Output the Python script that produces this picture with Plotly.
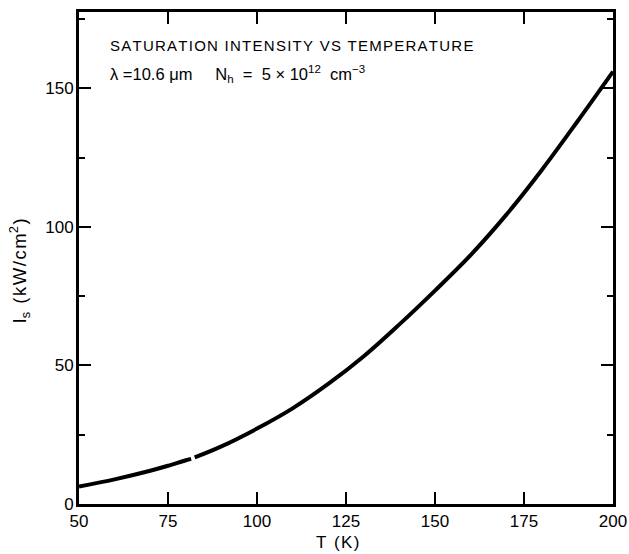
import plotly.graph_objects as go

# Temperature (K) and saturation intensity (kW/cm^2)
T_seg1 = [50, 60, 70, 75, 80, 81.5]
Is_seg1 = [6.3, 8.9, 12.0, 13.8, 15.8, 16.3]
T_seg2 = [82.5, 90, 100, 110, 120, 130, 140, 150, 160, 170, 180, 190, 200]
Is_seg2 = [16.8, 20.8, 27.2, 34.5, 43.3, 53.3, 64.8, 77.0, 89.8, 104.3, 120.5, 138.0, 156.0]

x_ticks = [50, 75, 100, 125, 150, 175, 200]
y_ticks = [0, 50, 100, 150]

FONT = "Liberation Sans, Arial, sans-serif"
HS = "\u200a"


def spaced(s):
    return HS.join(s)


fig = go.Figure()
for xs, ys in [(T_seg1, Is_seg1), (T_seg2, Is_seg2)]:
    fig.add_trace(go.Scatter(x=xs, y=ys, mode="lines",
                             line=dict(color="black", width=4, shape="spline", smoothing=1.0),
                             showlegend=False, hoverinfo="skip"))

fig.update_layout(
    width=629, height=554,
    margin=dict(l=79, r=16, t=12, b=50, autoexpand=False),
    paper_bgcolor="white", plot_bgcolor="white",
    font=dict(family=FONT, size=17, color="black"),
    showlegend=False,
)
fig.update_xaxes(range=[50, 200], tickvals=x_ticks, ticktext=[str(v) for v in x_ticks],
                 ticks="inside", ticklen=12, tickwidth=2, tickcolor="black",
                 showline=True, linewidth=3, linecolor="black", mirror="ticks",
                 showgrid=False, zeroline=False, tickfont=dict(size=17), automargin=False)
fig.update_yaxes(range=[0, 177.5], tickvals=y_ticks, ticktext=[str(v) for v in y_ticks],
                 ticks="inside", ticklen=12, tickwidth=2, tickcolor="black",
                 minor=dict(dtick=25, tick0=0, ticks="inside", ticklen=6, tickwidth=2, tickcolor="black"),
                 showline=True, linewidth=3, linecolor="black", mirror="ticks",
                 showgrid=False, zeroline=False, tickfont=dict(size=17), ticklabelstandoff=-1,
                 automargin=False)

title_words = ["SATURATION", "INTENSITY", "VS", "TEMPERATURE"]
fig.add_annotation(xref="paper", yref="paper", x=0.054, y=0.931, xanchor="left", yanchor="middle",
                   text=(HS + " " + HS).join(spaced(w) for w in title_words),
                   showarrow=False, font=dict(size=15))
fig.add_annotation(xref="paper", yref="paper", x=0.054, y=0.874, xanchor="left", yanchor="middle",
                   text="λ =10.6 μm&nbsp;&nbsp;&nbsp;&nbsp;&nbsp;N<sub>h</sub>&nbsp; =&nbsp; 5 × 10<sup>12</sup>&nbsp; cm<sup>−3</sup>",
                   showarrow=False, font=dict(size=16.5))
fig.add_annotation(xref="paper", yref="paper", x=-0.112, y=0.473, xanchor="center", yanchor="middle",
                   text="I<sub>s</sub>" + HS + " " + HS + spaced("(kW/cm") + "<sup>2</sup>" + HS + ")",
                   textangle=-90, showarrow=False, font=dict(size=18.5))
fig.add_annotation(xref="paper", yref="paper", x=0.485, y=-0.079, xanchor="center", yanchor="middle",
                   text=spaced("T (K)"), showarrow=False, font=dict(size=17))

fig.write_html("out.html", config={"displayModeBar": False},
               post_script="document.body.style.margin='0';document.body.style.padding='0';")
